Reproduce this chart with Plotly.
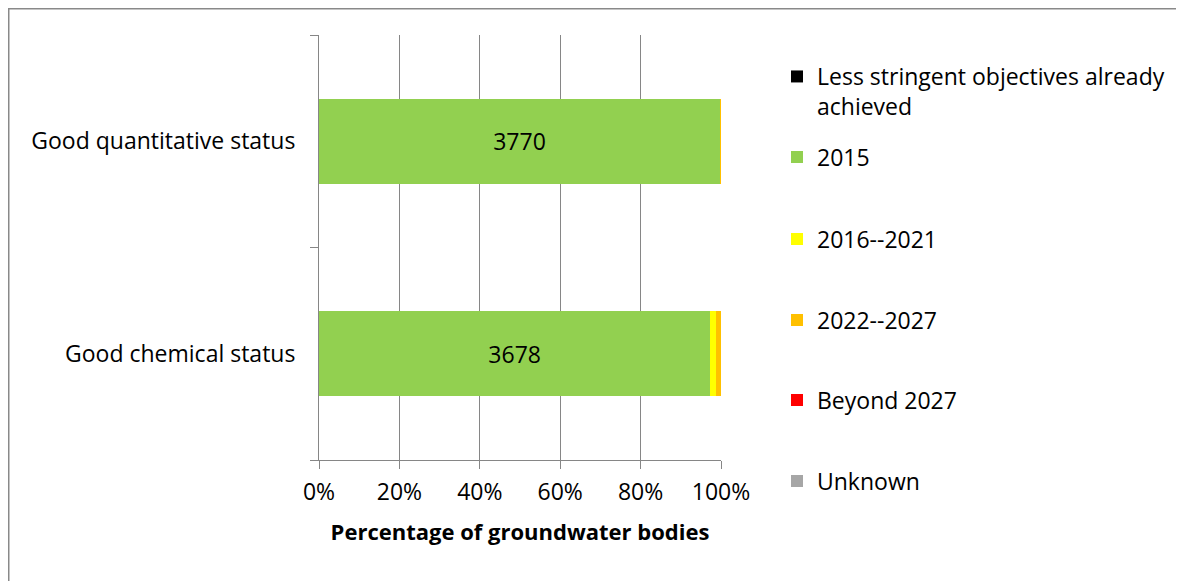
import plotly.graph_objects as go

categories = ["Good quantitative status", "Good chemical status"]
series_names = ["Less stringent objectives already<br>achieved", "2015", "2016--2021",
                "2022--2027", "Beyond 2027", "Unknown"]
less_stringent = [0, 0]
y2015 = [3770, 3678]
y2016_2021 = [0, 50]
y2022_2027 = [9, 51]
beyond_2027 = [0, 0]
unknown = [0, 0]
x_ticks = [0, 20, 40, 60, 80, 100]

series_values = [less_stringent, y2015, y2016_2021, y2022_2027, beyond_2027, unknown]
colors = ["#000000", "#92D050", "#FFFF00", "#FFC000", "#FF0000", "#A6A6A6"]

# the page body adds an 8px offset, so positions below are figure pixels
W, H = 1176, 573
L, R, T, B = 311, 713, 27, 452
FONT = "Open Sans"
FS = 23


def px_x(px):
    return (px - L) / (R - L)


def px_y(py):
    return (B - py) / (B - T)


fig = go.Figure()

legend_centers = [83.5, 149, 231, 312, 392, 473]
legend_keys = ["legend", "legend2", "legend3", "legend4", "legend5", "legend6"]

for name, vals, color, key in zip(series_names, series_values, colors, legend_keys):
    show_text = name == "2015"
    fig.add_trace(go.Bar(
        y=categories,
        x=vals,
        name=name,
        orientation="h",
        marker=dict(color=color, line=dict(width=0)),
        text=[str(v) for v in vals] if show_text else None,
        textposition="inside" if show_text else "none",
        insidetextanchor="middle",
        textfont=dict(size=FS, color="#000000", family=FONT),
        legend=key,
        hoverinfo="x+name",
    ))

layout_legends = {}
for key, yc in zip(legend_keys, legend_centers):
    layout_legends[key] = dict(
        x=px_x(769), xanchor="left",
        y=px_y(yc), yanchor="middle",
        bgcolor="rgba(0,0,0,0)",
        font=dict(size=FS, color="#000000", family=FONT),
        valign="top",
        itemclick=False,
    )

fig.update_layout(
    **layout_legends,
    barmode="stack",
    barnorm="percent",
    bargap=0.6,
    width=W,
    height=H,
    margin=dict(l=L, r=W - R, t=T, b=H - B),
    plot_bgcolor="white",
    paper_bgcolor="white",
    font=dict(family=FONT, size=FS, color="#000000"),
    showlegend=True,
    xaxis=dict(
        range=[0, 100],
        tickvals=x_ticks,
        ticktext=[f"{v}%" for v in x_ticks],
        showgrid=True,
        gridcolor="#868686",
        gridwidth=1,
        showline=True,
        linecolor="#868686",
        linewidth=1,
        ticks="outside",
        ticklen=8,
        tickcolor="#868686",
        zeroline=False,
        tickfont=dict(size=FS, family=FONT),
        ticklabelstandoff=3,
        title=dict(text="<b>Percentage of groundwater bodies</b>",
                   font=dict(size=22, family=FONT), standoff=19),
    ),
    yaxis=dict(
        categoryorder="array",
        categoryarray=categories[::-1],
        showline=True,
        linecolor="#868686",
        linewidth=1,
        ticks="outside",
        ticklen=8,
        tickcolor="#868686",
        tickson="boundaries",
        showgrid=False,
        tickfont=dict(size=FS, family=FONT),
        ticklabelstandoff=18,
    ),
    shapes=[
        dict(type="line", xref="paper", yref="paper",
             x0=px_x(0), x1=px_x(W), y0=px_y(0), y1=px_y(0),
             line=dict(color="#898989", width=3)),
        dict(type="line", xref="paper", yref="paper",
             x0=px_x(0), x1=px_x(0), y0=px_y(0), y1=px_y(H),
             line=dict(color="#898989", width=3)),
    ],
)

fig.write_html("out.html")
